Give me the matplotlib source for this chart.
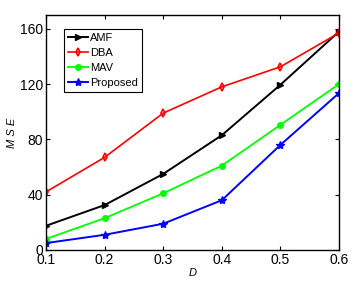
import matplotlib.pyplot as plt

plt.rcParams['font.family'] = ['Liberation Sans', 'DejaVu Sans']

d = [0.1, 0.2, 0.3, 0.4, 0.5, 0.6]
amf = [17.5, 32.5, 55, 83, 119.5, 158]
dba = [42, 67, 99, 118, 132.5, 157]
mav = [8, 23, 41, 61, 90.5, 120]
proposed = [5, 11, 19, 36, 76, 113.5]

fig = plt.figure(figsize=(3.58, 2.82), dpi=100)
ax = fig.add_axes([0.1285, 0.1135, 0.8185, 0.8335])

ax.plot(d, amf, color='black', marker='>', ms=4, lw=1.4, label='AMF')
ax.plot(d, dba, color='red', marker='d', ms=4, lw=1.2, mfc='none', mew=1.2, label='DBA')
ax.plot(d, mav, color='#00ff00', marker='o', ms=4, lw=1.3, label='MAV')
ax.plot(d, proposed, color='blue', marker='*', ms=6, lw=1.4, label='Proposed')

ax.set_xlim(0.1, 0.6)
ax.set_ylim(0, 170)
ax.set_xticks(d)
ax.set_yticks([0, 40, 80, 120, 160])
ax.tick_params(direction='in', top=True, right=True, labelsize=10, length=3, pad=2)
for s in ax.spines.values():
    s.set_linewidth(1.0)

ax.set_xlabel('D', fontstyle='italic', fontsize=8, labelpad=1)
ax.set_ylabel('M S E', fontstyle='italic', fontsize=8, labelpad=2)

leg = ax.legend(loc='upper left', bbox_to_anchor=(0.061, 0.94), borderaxespad=0,
                fontsize=8, fancybox=False, framealpha=1, edgecolor='black',
                handlelength=1.8, borderpad=0.35, labelspacing=0.45, handletextpad=0.2)
leg.get_frame().set_linewidth(0.8)

fig.savefig('out.png', dpi=100)
